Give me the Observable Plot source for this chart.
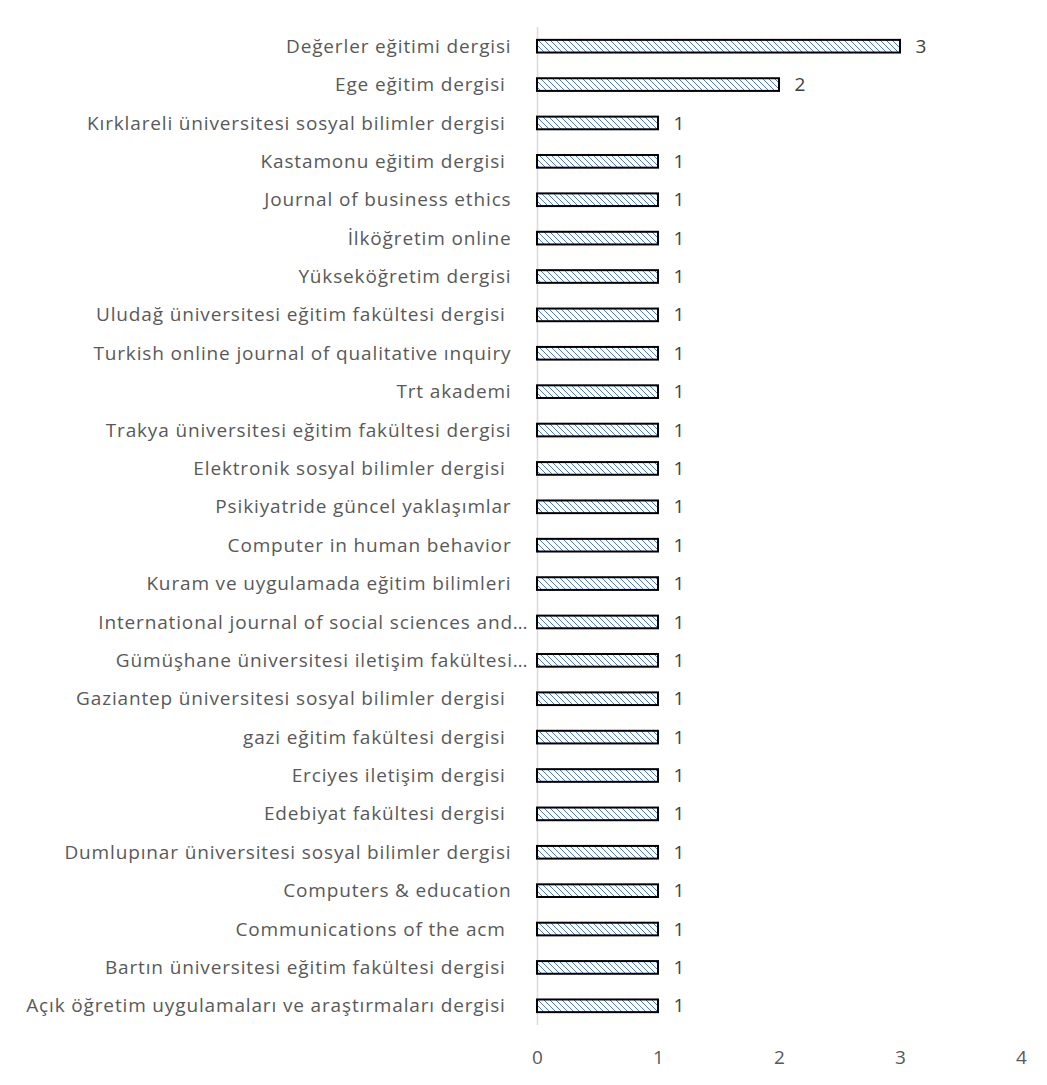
<!DOCTYPE html>
<html><head><meta charset="utf-8">
<script src="https://cdn.jsdelivr.net/npm/d3@7"></script>
<script src="https://cdn.jsdelivr.net/npm/@observablehq/plot@0.6"></script>
<style>
html,body{margin:0;padding:0;background:#fff;}
#wrap{position:relative;width:1047px;height:1085px;overflow:hidden;}
#edge{position:absolute;left:7px;top:0;width:2px;height:1085px;background:#dcdcdc;}
svg text{white-space:pre;}
svg g[aria-label="y-axis tick label"] text{letter-spacing:0.85px;}
</style></head>
<body><div id="wrap"><div id="edge"></div></div>
<script>
const journals = [
  "Değerler eğitimi dergisi",
  "Ege eğitim dergisi ",
  "Kırklareli üniversitesi sosyal bilimler dergisi ",
  "Kastamonu eğitim dergisi ",
  "Journal of business ethics",
  "İlköğretim online",
  "Yükseköğretim dergisi",
  "Uludağ üniversitesi eğitim fakültesi dergisi ",
  "Turkish online journal of qualitative ınquiry",
  "Trt akademi",
  "Trakya üniversitesi eğitim fakültesi dergisi",
  "Elektronik sosyal bilimler dergisi ",
  "Psikiyatride güncel yaklaşımlar",
  "Computer in human behavior",
  "Kuram ve uygulamada eğitim bilimleri",
  "International journal of social sciences and…",
  "Gümüşhane üniversitesi iletişim fakültesi…",
  "Gaziantep üniversitesi sosyal bilimler dergisi ",
  "gazi eğitim fakültesi dergisi ",
  "Erciyes iletişim dergisi ",
  "Edebiyat fakültesi dergisi ",
  "Dumlupınar üniversitesi sosyal bilimler dergisi",
  "Computers & education",
  "Communications of the acm ",
  "Bartın üniversitesi eğitim fakültesi dergisi ",
  "Açık öğretim uygulamaları ve araştırmaları dergisi "
];
const counts = [3,2,1,1,1,1,1,1,1,1,1,1,1,1,1,1,1,1,1,1,1,1,1,1,1,1];
const xTicks = [0,1,2,3,4];

const data = journals.map((j,i)=>({journal:j, count:counts[i]}));
const font = "Open Sans, sans-serif";
const truncated = journals.filter(j => j.endsWith("…"));
const full = journals.filter(j => !j.endsWith("…"));

const chart = Plot.plot({
  width: 1047,
  height: 1085,
  marginTop: 27,
  marginBottom: 60,
  marginLeft: 537,
  marginRight: 26,
  style: {fontFamily: font, background: "#fff", color: "#595959"},
  x: {domain: [0,4], ticks: xTicks, label: null},
  y: {domain: journals, paddingInner: 0.67, paddingOuter: 0.335, round: false, label: null},
  marks: [
    Plot.ruleX([0], {stroke: "#d9d9d9", strokeWidth: 1.5}),
    Plot.barX(data, {y: "journal", x: "count", fill: "url(#hatch)", stroke: "#000", strokeWidth: 2}),
    Plot.text(data, {y: "journal", x: "count", text: d => String(d.count), textAnchor: "start", dx: 15, fontSize: 19, fill: "#404040"}),
    Plot.axisY({ticks: full, tickSize: 0, tickPadding: 26, fontSize: 19, fill: "#595959", label: null}),
    Plot.axisY({ticks: truncated, tickSize: 0, tickPadding: 9, fontSize: 19, fill: "#595959", label: null}),
    Plot.axisX({ticks: xTicks, tickFormat: d3.format("d"), tickSize: 0, tickPadding: 25, fontSize: 19, fill: "#595959", label: null})
  ]
});

const svgNS = "http://www.w3.org/2000/svg";
const defs = document.createElementNS(svgNS, "defs");
defs.innerHTML = `<pattern id="hatch" patternUnits="userSpaceOnUse" width="6" height="6">
  <rect width="6" height="6" fill="#fff"/>
  <path d="M-1,-1 L7,7 M-1,5 L1,7 M5,-1 L7,1" stroke="#4a7bd0" stroke-width="1"/>
</pattern>`;
chart.insertBefore(defs, chart.firstChild);
document.getElementById("wrap").appendChild(chart);
chart.style.position = "absolute";
chart.style.left = "0";
chart.style.top = "0";
</script>
</body></html>
